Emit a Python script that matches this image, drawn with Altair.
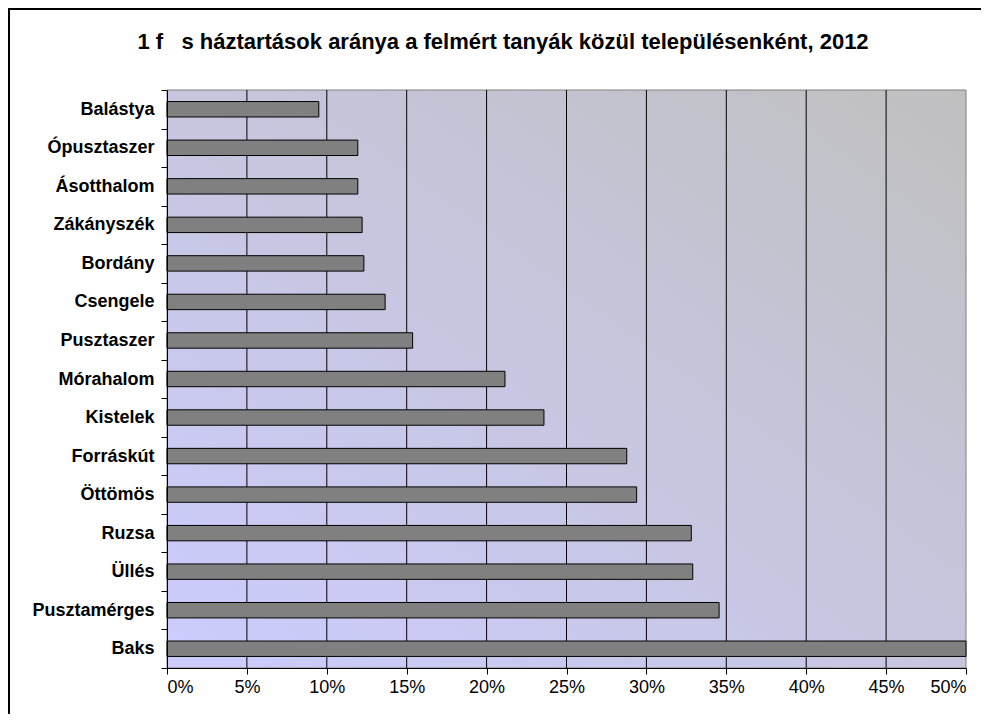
import altair as alt
import pandas as pd

# ---- data ----
categories = ["Balástya", "Ópusztaszer", "Ásotthalom", "Zákányszék", "Bordány",
              "Csengele", "Pusztaszer", "Mórahalom", "Kistelek", "Forráskút",
              "Öttömös", "Ruzsa", "Üllés", "Pusztamérges", "Baks"]
values_pct = [9.5, 11.94, 11.94, 12.21, 12.32, 13.65, 15.37, 21.15, 23.59, 28.77,
              29.39, 32.81, 32.9, 34.55, 50.0]
tick_values_pct = [0, 5, 10, 15, 20, 25, 30, 35, 40, 45, 50]
title_text = "1 f\u00a0\u00a0\u00a0s háztartások aránya a felmért tanyák közül településenként, 2012"

FONT = "Liberation Sans, Arial, sans-serif"
W, H = 799, 578

df = pd.DataFrame({"telepules": categories, "arany": [v / 100 for v in values_pct]})
grid_df = pd.DataFrame({"g": [t / 100 for t in tick_values_pct[1:-1]]})
one = pd.DataFrame({"k": [0]})

x_scale = alt.Scale(domain=[0, 0.5], nice=False, zero=True)

gradient = alt.LinearGradient(
    gradient="linear",
    stops=[alt.GradientStop(color="#ccccff", offset=0),
           alt.GradientStop(color="#c0c0c0", offset=1)],
    x1=0, y1=1, x2=1, y2=0,
)

background = alt.Chart(one).mark_rect(fill=gradient, stroke="#808080", strokeWidth=1).encode(
    x=alt.value(0), x2=alt.value(W), y=alt.value(0), y2=alt.value(H)
)

grid = alt.Chart(grid_df).mark_rule(color="black", strokeWidth=1).encode(
    x=alt.X("g:Q", scale=x_scale)
)

bars = alt.Chart(df).mark_bar(
    fill="#808080", stroke="#000000", strokeWidth=1,
    height=alt.RelativeBandSize(0.4)
).encode(
    x=alt.X("arany:Q", scale=x_scale,
            axis=alt.Axis(values=[t / 100 for t in tick_values_pct], format=".0%",
                          title=None, grid=False, domainColor="black", domainWidth=1,
                          tickColor="black", tickSize=6, labelFont=FONT,
                          labelFontSize=18, labelColor="black", labelPadding=4,
                          zindex=1)),
    y=alt.Y("telepules:N", sort=categories,
            scale=alt.Scale(paddingInner=0, paddingOuter=0),
            axis=alt.Axis(title=None, tickBand="extent", domainColor="black",
                          domainWidth=1, tickColor="black", tickSize=6,
                          labelFont=FONT, labelFontSize=18, labelFontWeight="bold",
                          labelColor="black", labelPadding=7, grid=False, zindex=1)),
)

title = alt.Chart(one).mark_text(
    text=title_text, font=FONT, fontSize=22, fontWeight="bold", color="black",
    align="center", baseline="alphabetic"
).encode(x=alt.value(336), y=alt.value(-41))

frame = alt.Chart(one).mark_rect(filled=False, stroke="black", strokeWidth=2).encode(
    x=alt.value(-158), x2=alt.value(1000), y=alt.value(-81), y2=alt.value(800)
)

chart = alt.layer(background, grid, bars, title, frame).properties(
    width=W, height=H,
    padding={"left": 159, "top": 82, "right": 15, "bottom": 46},
    autosize=alt.AutoSizeParams(type="none"),
).configure_view(stroke=None)

chart.save("out.html", embed_options={"renderer": "svg", "actions": False})
